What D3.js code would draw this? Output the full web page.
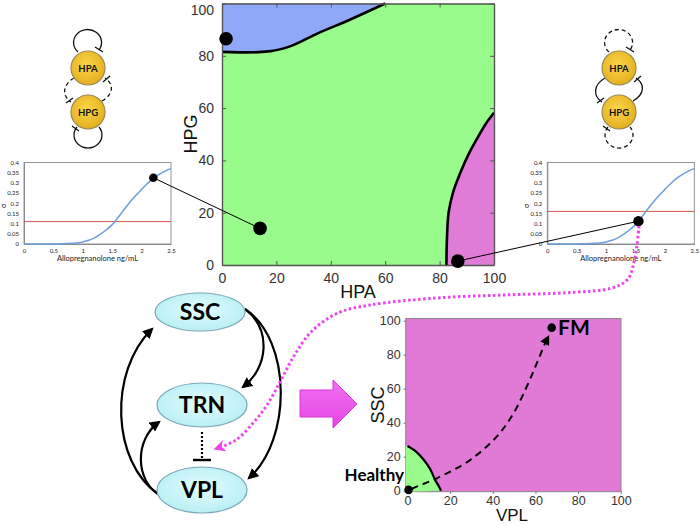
<!DOCTYPE html>
<html><head><meta charset="utf-8">
<script src="https://cdn.jsdelivr.net/npm/d3@7"></script>
<style>body{margin:0;background:#fff}svg{display:block}</style>
</head><body>
<svg id="c" width="700" height="525"></svg>
<script>
// ---------- data ----------
const mainTicks = [0, 20, 40, 60, 80, 100];
const blueBoundaryHPA = [0, 10, 18, 25, 35, 47, 60];
const blueBoundaryHPG = [81.5, 81.3, 81.8, 83.6, 88.5, 93.8, 100];
const pinkBoundaryHPA = [82.5, 82.7, 83.3, 85, 87.5, 90.5, 93.6, 97, 100];
const pinkBoundaryHPG = [0, 10, 20, 28, 35, 42, 48, 54, 58.2];
const mainPointsHPA = [1.5, 14, 86.7];
const mainPointsHPG = [86.5, 14, 1.5];

const alloX  = [0, 0.5, 0.75, 1.0, 1.1, 1.2, 1.3, 1.4, 1.5, 1.6, 1.7, 1.8, 1.9, 2.0, 2.1, 2.2, 2.3, 2.4, 2.5];
const sigmaY = [0, 0, 0.002, 0.01, 0.018, 0.03, 0.048, 0.07, 0.095, 0.13, 0.168, 0.205, 0.238, 0.268, 0.297, 0.322, 0.342, 0.358, 0.37];
const insetXTicks = [0, 0.5, 1, 1.5, 2, 2.5];
const insetYTicks = [0, 0.05, 0.1, 0.15, 0.2, 0.25, 0.3, 0.35, 0.4];
const thresholds = [0.11, 0.16];
const insetDotX = [2.2, 1.55];
const insetDotY = [0.325, 0.112];

const fmTicks = [0, 20, 40, 60, 80, 100];
const greenVPL = [0, 4, 7.4, 10.5, 12.9, 14.5, 15.7];
const greenSSC = [26.3, 23, 18.5, 13, 6.5, 3, 0];
const trajVPL = [2, 4.3, 13.7, 29.3, 41.8, 49.6, 55.9, 60.6, 64.5, 66];
const trajSSC = [1, 2.4, 7.3, 18, 31.8, 45.3, 61.2, 74.9, 86.7, 90.6];
const healthyPt = [0.5, 0.5];
const fmPt = [67.6, 95.9];

// ---------- setup ----------
const svg = d3.select("#c");
svg.append("rect").attr("width", 700).attr("height", 525).attr("fill", "#fff");
const defs = svg.append("defs");
const yg = defs.append("radialGradient").attr("id", "yel").attr("cx", "45%").attr("cy", "40%").attr("r", "65%");
yg.append("stop").attr("offset", "0%").attr("stop-color", "#fbd548");
yg.append("stop").attr("offset", "100%").attr("stop-color", "#e2ad1c");
const cg = defs.append("radialGradient").attr("id", "cyan").attr("cx", "50%").attr("cy", "45%").attr("r", "60%");
cg.append("stop").attr("offset", "0%").attr("stop-color", "#e4fdff");
cg.append("stop").attr("offset", "100%").attr("stop-color", "#b4eef3");
const mg = defs.append("linearGradient").attr("id", "mag").attr("x1", 0).attr("y1", 0).attr("x2", 0).attr("y2", 1);
mg.append("stop").attr("offset", "0%").attr("stop-color", "#f070f0");
mg.append("stop").attr("offset", "100%").attr("stop-color", "#e645e6");
defs.append("marker").attr("id", "arrSmall").attr("viewBox", "0 0 10 10").attr("refX", 8).attr("refY", 5)
  .attr("markerWidth", 5).attr("markerHeight", 5).attr("orient", "auto").attr("markerUnits", "strokeWidth")
  .append("path").attr("d", "M0,0L10,5L0,10z").attr("fill", "#000");
defs.append("marker").attr("id", "arrMag").attr("viewBox", "0 0 10 10").attr("refX", 6).attr("refY", 5)
  .attr("markerWidth", 4).attr("markerHeight", 4).attr("orient", "auto").attr("markerUnits", "strokeWidth")
  .append("path").attr("d", "M0,0L10,5L0,10L3,5z").attr("fill", "#ee44ee");

const lineFont = "'Liberation Sans', Arial, sans-serif";
const boldFont = "Lato, 'Open Sans', sans-serif";

// ---------- main plot ----------
const mx = d3.scaleLinear().domain([0, 100]).range([222, 494]);
const my = d3.scaleLinear().domain([0, 100]).range([265, 3.5]);
const main = svg.append("g");
main.append("rect").attr("x", mx(0)).attr("y", my(100)).attr("width", mx(100) - mx(0)).attr("height", my(0) - my(100)).attr("fill", "#99fb8c");
const blueData = blueBoundaryHPA.map((v, i) => [v, blueBoundaryHPG[i]]);
const pinkData = pinkBoundaryHPA.map((v, i) => [v, pinkBoundaryHPG[i]]);
const lineBlue = d3.line().x(d => mx(d[0])).y(d => my(d[1])).curve(d3.curveMonotoneX);
const lineM = d3.line().x(d => mx(d[0])).y(d => my(d[1])).curve(d3.curveCatmullRom);
main.append("path").attr("d", `M${mx(0)},${my(100)}L${mx(0)},${my(blueData[0][1])}` + lineBlue(blueData).replace("M", "L") + "Z").attr("fill", "#8fa8f8");
main.append("path").attr("d", lineM(pinkData) + "L" + mx(100) + "," + my(0) + "Z").attr("fill", "#e07bd8");
main.append("path").attr("d", lineBlue(blueData)).attr("fill", "none").attr("stroke", "#000").attr("stroke-width", 2.6);
main.append("path").attr("d", lineM(pinkData)).attr("fill", "none").attr("stroke", "#000").attr("stroke-width", 2.6);

function styleAxis(g, showLabels, fs) {
  g.select(".domain").attr("stroke", "#555").attr("stroke-width", 1.4);
  g.selectAll(".tick line").attr("stroke", "#555");
  g.selectAll(".tick text").attr("fill", "#333").style("font-family", lineFont).style("font-size", fs + "px");
  if (!showLabels) g.selectAll(".tick text").remove();
}
styleAxis(main.append("g").attr("transform", `translate(0,${my(0)})`).call(d3.axisBottom(mx).tickValues(mainTicks).tickSizeInner(-4).tickSizeOuter(0).tickPadding(8)), true, 14);
styleAxis(main.append("g").attr("transform", `translate(0,${my(100)})`).call(d3.axisTop(mx).tickValues(mainTicks).tickSizeInner(-4).tickSizeOuter(0)), false, 14);
const leftAx = main.append("g").attr("transform", `translate(${mx(0)},0)`).call(d3.axisLeft(my).tickValues(mainTicks).tickSizeInner(-4).tickSizeOuter(0).tickPadding(8));
styleAxis(leftAx, true, 14);
leftAx.selectAll(".tick text").filter(d => d === 100).attr("dy", "0.8em");
styleAxis(main.append("g").attr("transform", `translate(${mx(100)},0)`).call(d3.axisRight(my).tickValues(mainTicks).tickSizeInner(-4).tickSizeOuter(0)), false, 14);
main.append("text").attr("x", 358).attr("y", 298).attr("text-anchor", "middle").style("font-family", lineFont).style("font-size", "18px").attr("fill", "#111").text("HPA");
main.append("text").attr("transform", "translate(197,134) rotate(-90)").attr("text-anchor", "middle").style("font-family", lineFont).style("font-size", "18px").attr("fill", "#111").text("HPG");

// ---------- insets ----------
const insetX0 = [24, 547.3];
const insetX1 = [171, 694.3];
const insetCenters = [];
[0, 1].forEach(k => {
  const ix = d3.scaleLinear().domain([0, 2.5]).range([insetX0[k], insetX1[k]]);
  const iy = d3.scaleLinear().domain([0, 0.4]).range([244, 162.5]);
  const g = svg.append("g");
  g.append("rect").attr("x", ix(0)).attr("y", iy(0.4)).attr("width", ix(2.5) - ix(0)).attr("height", iy(0) - iy(0.4)).attr("fill", "#fff").attr("stroke", "#8a8a8a").attr("stroke-width", 0.9);
  const ax = g.append("g").attr("transform", `translate(0,${iy(0)})`).call(d3.axisBottom(ix).tickValues(insetXTicks).tickSize(0).tickPadding(5).tickFormat(d3.format("")));
  const ay = g.append("g").attr("transform", `translate(${ix(0)},0)`).call(d3.axisLeft(iy).tickValues(insetYTicks).tickSize(0).tickPadding(5).tickFormat(d3.format("")));
  [ax, ay].forEach(a => { a.select(".domain").attr("stroke", "#8a8a8a"); a.selectAll(".tick text").attr("fill", "#222").style("font-family", boldFont).style("font-size", "6px"); });
  g.append("line").attr("x1", ix(0)).attr("x2", ix(2.5)).attr("y1", iy(thresholds[k])).attr("y2", iy(thresholds[k])).attr("stroke", "#d9534f").attr("stroke-width", 1);
  g.append("path").datum(alloX.map((v, i) => [v, sigmaY[i]])).attr("d", d3.line().x(d => ix(d[0])).y(d => iy(d[1])).curve(d3.curveMonotoneX)).attr("fill", "none").attr("stroke", "#6c9fdc").attr("stroke-width", 1.5);
  g.append("text").attr("x", (ix(0) + ix(2.5)) / 2).attr("y", 261).attr("text-anchor", "middle").style("font-family", boldFont).style("font-size", "7.5px").attr("fill", "#222").text("Allopregnanolone ng/mL");
  g.append("text").attr("transform", `translate(${ix(0) - 18},206) rotate(-90)`).attr("text-anchor", "middle").style("font-family", boldFont).style("font-size", "7px").attr("fill", "#222").text("σ");
  insetCenters.push([ix(insetDotX[k]), iy(insetDotY[k])]);
});

// connectors
const mainPts = mainPointsHPA.map((v, i) => [mx(v), my(mainPointsHPG[i])]);
svg.append("line").attr("x1", insetCenters[0][0]).attr("y1", insetCenters[0][1]).attr("x2", mainPts[1][0]).attr("y2", mainPts[1][1]).attr("stroke", "#000").attr("stroke-width", 1);
svg.append("line").attr("x1", insetCenters[1][0]).attr("y1", insetCenters[1][1]).attr("x2", mainPts[2][0]).attr("y2", mainPts[2][1]).attr("stroke", "#000").attr("stroke-width", 1);
mainPts.forEach(p => svg.append("circle").attr("cx", p[0]).attr("cy", p[1]).attr("r", 6.8).attr("fill", "#000"));
insetCenters.forEach((p, k) => svg.append("circle").attr("cx", p[0]).attr("cy", p[1]).attr("r", k === 0 ? 4.3 : 5.2).attr("fill", "#000"));

// ---------- HPA/HPG motifs ----------
function motif(cx, topDash, sideDash, botDash) {
  const g = svg.append("g").attr("fill", "none").attr("stroke", "#111").attr("stroke-width", 1.3);
  const dash = d => d ? "4,3" : null;
  g.append("path").attr("d", `M${cx - 10},${52} A14 13 0 1 1 ${cx + 11},${50}`).attr("stroke-dasharray", dash(topDash));
  g.append("line").attr("x1", cx + 7).attr("y1", 47).attr("x2", cx + 15).attr("y2", 52);
  g.append("path").attr("d", `M${cx - 14},${78} C${cx - 26},${85} ${cx - 26},${96} ${cx - 17},${102}`).attr("stroke-dasharray", dash(sideDash));
  g.append("line").attr("x1", cx - 22).attr("y1", 103).attr("x2", cx - 15).attr("y2", 98);
  g.append("path").attr("d", `M${cx + 14},${101} C${cx + 26},${94} ${cx + 26},${84} ${cx + 17},${78}`).attr("stroke-dasharray", dash(sideDash));
  g.append("line").attr("x1", cx + 15).attr("y1", 82).attr("x2", cx + 22).attr("y2", 76);
  g.append("path").attr("d", `M${cx - 11},${127} A14 13 0 1 0 ${cx + 11},${127}`).attr("stroke-dasharray", dash(botDash));
  g.append("line").attr("x1", cx - 16).attr("y1", 126).attr("x2", cx - 9).attr("y2", 131);
  [["HPA", 68], ["HPG", 112]].forEach(([t, cy]) => {
    svg.append("circle").attr("cx", cx).attr("cy", cy).attr("r", 17).attr("fill", "url(#yel)").attr("stroke", "#9d8a55").attr("stroke-width", 1.2);
    svg.append("text").attr("x", cx).attr("y", cy + 3.5).attr("text-anchor", "middle").style("font-family", boldFont).style("font-weight", "bold").style("font-size", "9.5px").attr("fill", "#111").text(t);
  });
}
motif(88, false, true, false);
motif(619, true, false, true);

// ---------- thalamocortical network ----------
const net = svg.append("g");
const arrowsG = net.append("g").attr("fill", "none").attr("stroke", "#000").attr("stroke-width", 2.2);
arrowsG.append("path").attr("d", "M158,494 C112,462 108,372 152,329").attr("marker-end", "url(#arrSmall)");
arrowsG.append("path").attr("d", "M158,494 C136,480 134,440 159,422").attr("marker-end", "url(#arrSmall)");
arrowsG.append("path").attr("d", "M245,309 C272,330 268,368 243,387").attr("marker-end", "url(#arrSmall)");
arrowsG.append("path").attr("d", "M245,309 C292,340 292,440 249,478").attr("marker-end", "url(#arrSmall)");
net.append("line").attr("x1", 202).attr("y1", 432).attr("x2", 202).attr("y2", 459).attr("stroke", "#000").attr("stroke-width", 2.2).attr("stroke-dasharray", "2,2");
net.append("line").attr("x1", 193).attr("y1", 460).attr("x2", 211).attr("y2", 460).attr("stroke", "#000").attr("stroke-width", 2.4);
[["SSC", 200, 312, 19], ["TRN", 202, 405, 22], ["VPL", 202, 490, 23]].forEach(([t, cx, cy, ry]) => {
  net.append("ellipse").attr("cx", cx).attr("cy", cy).attr("rx", 45).attr("ry", ry).attr("fill", "url(#cyan)").attr("stroke", "#7aa7b8").attr("stroke-width", 1.2);
  net.append("text").attr("x", cx).attr("y", cy + 8).attr("text-anchor", "middle").style("font-family", boldFont).style("font-weight", "bold").style("font-size", "23px").attr("fill", "#000").text(t);
});

// big magenta arrow
svg.append("path").attr("d", "M300,390 L333,390 L333,380 L357,404 L333,428 L333,417 L300,417 Z").attr("fill", "url(#mag)").attr("stroke", "#d63ad6").attr("stroke-width", 1);

// ---------- bottom right plot ----------
const bx = d3.scaleLinear().domain([0, 100]).range([407.5, 620.8]);
const by = d3.scaleLinear().domain([0, 100]).range([490.7, 320.7]);
const bp = svg.append("g");
bp.append("rect").attr("x", 405.7).attr("y", 318.5).attr("width", 621 - 405.7).attr("height", 491.7 - 318.5).attr("fill", "#e07ad6").attr("stroke", "#888").attr("stroke-width", 1);
const greenData = greenVPL.map((v, i) => [v, greenSSC[i]]);
const lineB = d3.line().x(d => bx(d[0])).y(d => by(d[1])).curve(d3.curveCatmullRom);
bp.append("path").attr("d", `M405.7,${by(greenSSC[0])}` + lineB(greenData).replace("M", "L") + `L405.7,491.7Z`).attr("fill", "#99fb8c");
bp.append("path").attr("d", lineB(greenData)).attr("fill", "none").attr("stroke", "#000").attr("stroke-width", 2.2);
const bxa = bp.append("g").attr("transform", "translate(0,491.7)").call(d3.axisBottom(bx).tickValues(fmTicks).tickSize(2).tickPadding(2));
const bya = bp.append("g").attr("transform", "translate(405.7,0)").call(d3.axisLeft(by).tickValues(fmTicks).tickSize(2).tickPadding(3));
[bxa, bya].forEach(a => { a.select(".domain").remove(); a.selectAll(".tick line").attr("stroke", "#666"); a.selectAll(".tick text").attr("fill", "#333").style("font-family", lineFont).style("font-size", "12.5px"); });
bp.append("text").attr("x", 512).attr("y", 521).attr("text-anchor", "middle").style("font-family", lineFont).style("font-size", "17px").attr("fill", "#111").text("VPL");
bp.append("text").attr("transform", "translate(384,405) rotate(-90)").attr("text-anchor", "middle").style("font-family", lineFont).style("font-size", "18px").attr("fill", "#111").text("SSC");
const trajData = trajVPL.map((v, i) => [v, trajSSC[i]]);
bp.append("path").attr("d", lineB(trajData)).attr("fill", "none").attr("stroke", "#000").attr("stroke-width", 2).attr("stroke-dasharray", "7,5").attr("marker-end", "url(#arrSmall)");
bp.append("circle").attr("cx", bx(healthyPt[0])).attr("cy", by(healthyPt[1])).attr("r", 4.3).attr("fill", "#000");
bp.append("circle").attr("cx", bx(fmPt[0])).attr("cy", by(fmPt[1])).attr("r", 4.3).attr("fill", "#000");
bp.append("text").attr("x", 558).attr("y", 335).style("font-family", boldFont).style("font-weight", "bold").style("font-size", "21px").attr("fill", "#000").text("FM");
bp.append("text").attr("x", 404).attr("y", 481).attr("text-anchor", "end").style("font-family", boldFont).style("font-weight", "bold").style("font-size", "17px").attr("fill", "#000").text("Healthy");

// ---------- magenta dotted connector ----------
const magPts = [[639,226],[637,245],[634,262],[628,279],[612,288],[570,292.5],[503,295],[437,298],[370,305],[338,313],[312,331],[294,356],[280,382],[267,405],[254,422],[236,440],[218,448]];
svg.append("path").attr("d", d3.line().curve(d3.curveCatmullRom)(magPts)).attr("fill", "none").attr("stroke", "#ee44ee").attr("stroke-width", 3).attr("stroke-dasharray", "2.5,2.5").attr("marker-end", "url(#arrMag)");
</script>
</body></html>
